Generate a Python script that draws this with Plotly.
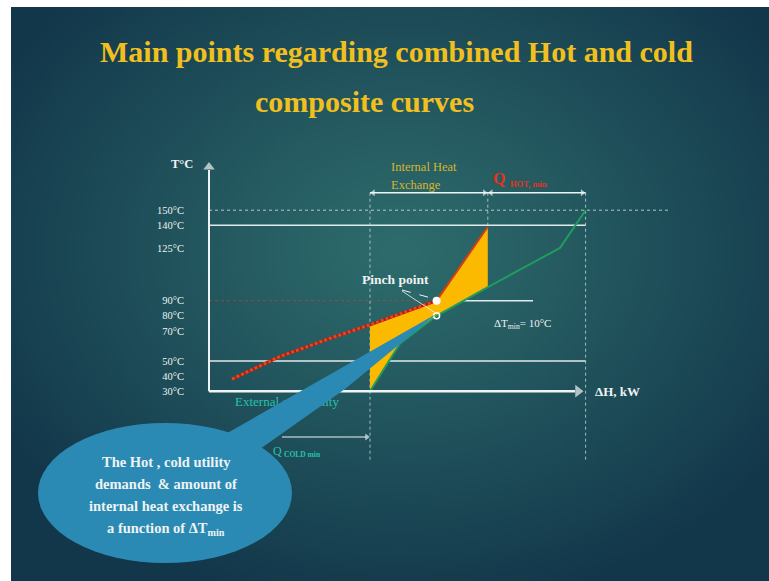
import base64
import struct
import zlib

import numpy as np
import plotly.graph_objects as go

# ---------------- data (schematic composite curves) ----------------
hot_dh = [11.5, 35.5, 60.5, 80.5, 113.8, 139.4]        # ΔH, kW (schematic)
hot_temp = [38, 53, 65, 74, 90, 139]                    # °C
cold_dh = [80.5, 95.5, 113.8, 139.4, 175.5, 188.3]
cold_temp = [30, 61.7, 80, 99, 125, 150]
tick_temps = [30, 40, 50, 70, 80, 90, 125, 140, 150]
tick_labels = ["30°C", "40°C", "50°C", "70°C", "80°C", "90°C", "125°C", "140°C", "150°C"]
q_cold_end = 80.5        # end of cold-utility span / start of internal exchange
internal_end = 139.4     # end of internal heat exchange
total_dh = 188.3         # end of hot utility span
pinch_dh = 113.8
hot_pinch_temp = 90
cold_pinch_temp = 80
solid_ref_temps = [140, 50]
dotted_ref_temp = 150
axis_temp = 30

callout_lines = ["The Hot , cold utility", "demands  &amp; amount of",
                 "internal heat exchange is", "a function of ΔT<sub>min</sub>"]

# ---------------- geometry helpers (figure pixels -> axes / paper) ----------------
W, H = 769, 581
X0PX, XS = 209.0, 2.0
YREF_T, YREF_PX, YS = 50.0, 361.0, 1.508


def dx(px):
    return (px - X0PX) / XS


def dy(py):
    return YREF_T + (YREF_PX - py) / YS


def fx(px):
    return px / W


def fy(py):
    return 1 - py / H


x_range = [dx(0), dx(W)]
y_range = [dy(H), dy(0)]

SERIF = "Liberation Serif"
WHITE = "#eef3f3"
GOLD = "#f2c01e"
CYAN = "#25c2ad"
RED = "#e8321c"
BLUE = "#2b8ab3"
EDGE = "#12364a"


# ---------------- background gradient image ----------------
def bg_png():
    w, h = 192, 144
    yy, xx = np.mgrid[0:h, 0:w]
    px = 11 + (xx + 0.5) / w * (W - 11)
    py = 7 + (yy + 0.5) / h * (H - 7)
    t = np.sqrt(((px - 400) / 470) ** 2 + ((py - 250) / 370) ** 2)
    t = np.clip(t, 0, 1) ** 1.1
    c0 = np.array([46, 108, 108], dtype=float)
    c1 = np.array([18, 54, 74], dtype=float)
    img = (c0 * (1 - t[..., None]) + c1 * t[..., None]).astype(np.uint8)
    raw = b"".join(b"\x00" + img[r].tobytes() for r in range(h))

    def chunk(tag, data):
        c = struct.pack(">I", len(data)) + tag + data
        return c + struct.pack(">I", zlib.crc32(tag + data) & 0xFFFFFFFF)

    png = (b"\x89PNG\r\n\x1a\n"
           + chunk(b"IHDR", struct.pack(">IIBBBBB", w, h, 8, 2, 0, 0, 0))
           + chunk(b"IDAT", zlib.compress(raw, 9))
           + chunk(b"IEND", b""))
    return "data:image/png;base64," + base64.b64encode(png).decode()


fig = go.Figure()

# ---------------- traces ----------------
ih = [i for i, v in enumerate(hot_dh) if q_cold_end <= v <= internal_end]
ic = [i for i, v in enumerate(cold_dh) if q_cold_end <= v <= internal_end]
poly_x = [hot_dh[i] for i in ih] + [cold_dh[i] for i in reversed(ic)]
poly_y = [hot_temp[i] for i in ih] + [cold_temp[i] for i in reversed(ic)]
fig.add_trace(go.Scatter(x=poly_x, y=poly_y, fill="toself", fillcolor="#fbb900",
                         mode="lines", line=dict(width=0), hoverinfo="skip"))

ip = hot_dh.index(pinch_dh)
fig.add_trace(go.Scatter(x=hot_dh[:ip + 1], y=hot_temp[:ip + 1], mode="lines",
                         line=dict(color="#9c2414", width=3), hoverinfo="skip"))
fig.add_trace(go.Scatter(x=hot_dh[:ip + 1], y=hot_temp[:ip + 1], mode="lines",
                         line=dict(color="#f0401f", width=3, dash="3px,2px"), hoverinfo="skip"))
fig.add_trace(go.Scatter(x=hot_dh[ip:], y=hot_temp[ip:], mode="lines",
                         line=dict(color="#cf3f17", width=2), hoverinfo="skip"))
fig.add_trace(go.Scatter(x=cold_dh, y=cold_temp, mode="lines",
                         line=dict(color="#1f9c5e", width=2), hoverinfo="skip"))
fig.add_trace(go.Scatter(x=[pinch_dh], y=[hot_pinch_temp], mode="markers",
                         marker=dict(color="white", size=8), hoverinfo="skip"))
fig.add_trace(go.Scatter(x=[pinch_dh], y=[cold_pinch_temp], mode="markers",
                         marker=dict(symbol="circle-open", color="white", size=6,
                                     line=dict(width=1.5, color="white")), hoverinfo="skip"))

top_arrow_t = dy(192.7)
qcold_arrow_t = dy(437)
# arrowheads (axis ends, span arrows)
head_x = [0, dx(578), q_cold_end + 1.6, internal_end - 1.6, internal_end + 1.6,
          total_dh - 1.6, q_cold_end - 1.6]
head_y = [dy(167), axis_temp, top_arrow_t, top_arrow_t, top_arrow_t, top_arrow_t, qcold_arrow_t]
head_sym = ["triangle-up", "triangle-right", "triangle-left", "triangle-right", "triangle-left",
            "triangle-right", "triangle-right"]
head_size = [10, 11, 6, 6, 6, 6, 6]
fig.add_trace(go.Scatter(x=head_x, y=head_y, mode="markers",
                         marker=dict(symbol=head_sym, size=head_size, color=WHITE,
                                     line=dict(width=0)), hoverinfo="skip"))

# text partly hidden by the callout (must be a trace so the shape can cover it)
fig.add_trace(go.Scatter(x=[dx(235)], y=[dy(403)], mode="text", text=["External cold utility"],
                         textposition="middle right",
                         textfont=dict(family=SERIF, size=13, color=CYAN), hoverinfo="skip"))

# ---------------- shapes ----------------
shapes = []
# white slide margins (top and left)
shapes.append(dict(type="rect", xref="paper", yref="paper", x0=0, x1=fx(11), y0=0, y1=1,
                   fillcolor="white", line=dict(width=0), layer="below"))
shapes.append(dict(type="rect", xref="paper", yref="paper", x0=0, x1=1, y0=fy(7), y1=1,
                   fillcolor="white", line=dict(width=0), layer="below"))
line_c = "rgba(235,242,242,0.95)"
shapes.append(dict(type="line", xref="x", yref="y", x0=0, x1=dx(670), y0=dotted_ref_temp,
                   y1=dotted_ref_temp, line=dict(color="rgba(215,228,228,0.8)", width=1, dash="dot"),
                   layer="below"))
for t in solid_ref_temps:
    shapes.append(dict(type="line", xref="x", yref="y", x0=0, x1=total_dh, y0=t, y1=t,
                       line=dict(color=line_c, width=1.5), layer="below"))
shapes.append(dict(type="line", xref="x", yref="y", x0=0, x1=pinch_dh, y0=hot_pinch_temp,
                   y1=hot_pinch_temp, line=dict(color="rgba(190,70,50,0.65)", width=1, dash="dot"),
                   layer="below"))
shapes.append(dict(type="line", xref="x", yref="y", x0=pinch_dh, x1=dx(533), y0=hot_pinch_temp,
                   y1=hot_pinch_temp, line=dict(color=line_c, width=1.5), layer="below"))
for xv, ybot in [(q_cold_end, dy(462)), (internal_end, hot_temp[-1]), (total_dh, dy(462))]:
    shapes.append(dict(type="line", xref="x", yref="y", x0=xv, x1=xv, y0=top_arrow_t, y1=ybot,
                       line=dict(color="rgba(210,225,225,0.75)", width=1, dash="dot"), layer="below"))
# span arrows (lines)
shapes.append(dict(type="line", xref="x", yref="y", x0=q_cold_end, x1=total_dh, y0=top_arrow_t,
                   y1=top_arrow_t, line=dict(color=WHITE, width=1.5), layer="below"))
shapes.append(dict(type="line", xref="x", yref="y", x0=dx(282), x1=q_cold_end - 2,
                   y0=qcold_arrow_t, y1=qcold_arrow_t, line=dict(color=WHITE, width=1.2),
                   layer="below"))
# axes
shapes.append(dict(type="line", xref="x", yref="y", x0=0, x1=0, y0=axis_temp, y1=dy(170),
                   line=dict(color=WHITE, width=2), layer="above"))
shapes.append(dict(type="line", xref="x", yref="y", x0=0, x1=dx(575), y0=axis_temp, y1=axis_temp,
                   line=dict(color=WHITE, width=2.5), layer="above"))
# pinch-point leaders
shapes.append(dict(type="line", xref="paper", yref="paper", x0=fx(402), y0=fy(290), x1=fx(433),
                   y1=fy(298.5), line=dict(color=WHITE, width=1, dash="dash"), layer="above"))
shapes.append(dict(type="line", xref="paper", yref="paper", x0=fx(402), y0=fy(291), x1=fx(434),
                   y1=fy(312), line=dict(color=WHITE, width=0.8), layer="above"))
# callout bubble
pts = [(437, 313.5), (345, 389), (250, 456), (215, 440)]
path = "M " + " L ".join(f"{fx(a):.5f},{fy(b):.5f}" for a, b in pts) + " Z"
shapes.append(dict(type="path", xref="paper", yref="paper", path=path, fillcolor=BLUE,
                   line=dict(width=0), layer="above"))
shapes.append(dict(type="circle", xref="paper", yref="paper", x0=fx(38), x1=fx(292),
                   y0=fy(563), y1=fy(423), fillcolor=BLUE, line=dict(width=0), layer="above"))

# ---------------- annotations ----------------
ann = []


def txt(text, px, py, size, color=WHITE, bold=False, xanchor="center"):
    ann.append(dict(text=f"<b>{text}</b>" if bold else text, xref="paper", yref="paper",
                    x=fx(px), y=fy(py), xanchor=xanchor, yanchor="middle", showarrow=False,
                    font=dict(family=SERIF, size=size, color=color)))


txt("Main points regarding combined Hot and cold", 396, 52, 30, GOLD, True)
txt("composite curves", 364, 101, 30, GOLD, True)
txt("T°C", 182, 164, 12.5, WHITE, True)
txt("ΔH, kW", 593, 391, 13, WHITE, True, "left")
txt("Pinch point", 395, 279, 13.5, WHITE, True)
txt("ΔT<sub>min</sub>= 10°C", 492, 324, 11, WHITE, False, "left")
txt("Internal Heat", 389, 167, 12.5, "#d8b52c", False, "left")
txt("Exchange", 389, 185, 12.5, "#d8b52c", False, "left")
txt("Q", 499, 178, 16, RED, True)
txt("HOT, min", 508, 184, 8.5, RED, True, "left")
txt("Q", 277, 451, 12, CYAN)
txt("COLD min", 282, 454, 7.5, CYAN, True, "left")
for i, line in enumerate(callout_lines):
    txt(line, 166, [462, 484, 506, 529][i], 14.5, WHITE, True)

fig.update_layout(
    width=W, height=H, margin=dict(l=0, r=0, t=0, b=0),
    paper_bgcolor=EDGE, plot_bgcolor="rgba(0,0,0,0)", showlegend=False, hovermode=False,
    xaxis=dict(range=x_range, visible=False, fixedrange=True),
    yaxis=dict(range=y_range, showgrid=False, zeroline=False, showline=False, fixedrange=True,
               tickvals=tick_temps, ticktext=tick_labels, ticks="outside", ticklen=23,
               tickcolor="rgba(0,0,0,0)", anchor="free", position=X0PX / W,
               tickfont=dict(family=SERIF, size=10.5, color=WHITE)),
    shapes=shapes, annotations=ann,
    images=[dict(source=bg_png(), xref="paper", yref="paper", x=fx(11), y=1 - 7 / H,
                 sizex=1 - fx(11), sizey=1 - 7 / H, sizing="stretch", layer="below",
                 xanchor="left", yanchor="top")],
)

fig.write_html("out.html", config={"displayModeBar": False, "staticPlot": True},
               post_script="document.body.style.margin='0';document.body.style.overflow='hidden';"
                           "document.documentElement.style.background='#12364a';")
